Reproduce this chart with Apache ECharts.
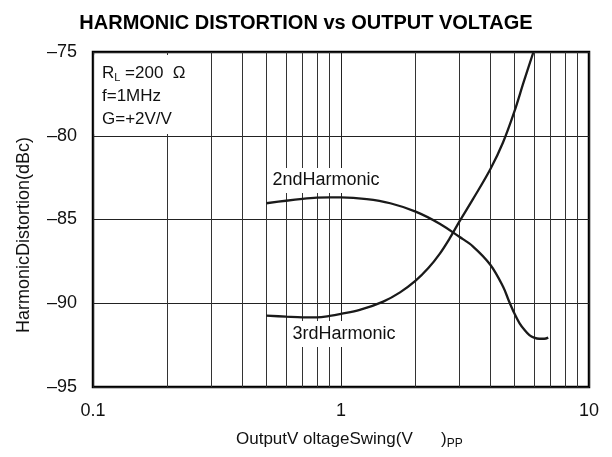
<!DOCTYPE html>
<html>
<head>
<meta charset="UTF-8">
<title>Harmonic Distortion vs Output Voltage</title>
<script src="https://cdn.jsdelivr.net/npm/echarts@6/dist/echarts.min.js"></script>
<style>
    html, body { margin: 0; padding: 0; background: #fff; }
    #chart { width: 612px; height: 457px; }
</style>
</head>
<body>
<div id="chart"></div>
<script>
// curve data (x in Vpp, y in dBc)
var h2X = [0.5, 0.6, 0.7, 0.8, 0.9, 1.0, 1.27, 1.58, 2.0, 2.5, 3.0, 3.4, 4.0, 4.5, 4.75, 5.0, 5.25, 5.5, 5.75, 6.0, 6.3, 6.6, 6.85];
var h2Y = [-84.03, -83.88, -83.77, -83.70, -83.68, -83.68, -83.78, -84.03, -84.53, -85.25, -86.03, -86.6, -87.7, -89.0, -89.85, -90.6, -91.2, -91.6, -91.9, -92.05, -92.12, -92.12, -92.05];
var h3X = [0.5, 0.6, 0.7, 0.8, 0.9, 1.0, 1.19, 1.48, 1.73, 2.0, 2.25, 2.5, 2.75, 3.0, 3.4, 4.0, 4.5, 5.0, 5.45, 5.97];
var h3Y = [-90.74, -90.8, -90.84, -90.84, -90.76, -90.64, -90.4, -89.9, -89.35, -88.65, -87.9, -87.05, -86.1, -85.13, -83.8, -82.0, -80.4, -78.56, -76.8, -75.0];
var minorX = [0.2, 0.3, 0.4, 0.5, 0.6, 0.7, 0.8, 0.9, 2, 3, 4, 5, 6, 7, 8, 9];
var xTicks = [0.1, 1, 10];
var yMin = -95, yMax = -75, yStep = 5;

function pairs(xs, ys) {
    return xs.map(function (x, i) { return [x, ys[i]]; });
}

var font = 'Liberation Sans, Arial, sans-serif';
var chart = echarts.init(document.getElementById('chart'));

var option = {
    animation: false,
    backgroundColor: '#fff',
    title: {
        text: 'HARMONIC DISTORTION vs OUTPUT VOLTAGE',
        left: 'center',
        top: 8,
        textStyle: { fontFamily: font, fontSize: 20, fontWeight: 'bold', color: '#000' }
    },
    grid: {
        left: 93, top: 52, width: 496, height: 335,
        show: true, borderColor: '#000', borderWidth: 2.5, backgroundColor: 'transparent'
    },
    xAxis: {
        type: 'log', logBase: 10, min: 0.1, max: 10,
        axisLine: { show: false },
        axisTick: { show: false },
        splitLine: { show: true, lineStyle: { color: '#222', width: 1 } },
        axisLabel: {
            margin: 15, fontFamily: font, fontSize: 18, color: '#111',
            formatter: function (v) { return xTicks.indexOf(v) >= 0 ? String(v) : ''; }
        }
    },
    yAxis: {
        type: 'value', min: yMin, max: yMax, interval: yStep,
        axisLine: { show: false },
        axisTick: { show: false },
        splitLine: { show: true, lineStyle: { color: '#222', width: 1 } },
        axisLabel: {
            margin: 16, fontFamily: font, fontSize: 18, color: '#111',
            formatter: function (v) { return String(v).replace('-', '\u2013'); }
        }
    },
    series: [
        {
            type: 'line', data: [], silent: true,
            markLine: {
                silent: true, symbol: 'none', label: { show: false },
                lineStyle: { color: '#333', width: 1, type: 'solid' },
                data: minorX.map(function (x) { return { xAxis: x }; })
            }
        },
        {
            name: '2ndHarmonic', type: 'line', data: pairs(h2X, h2Y),
            smooth: 0.35, showSymbol: false, z: 5,
            lineStyle: { color: '#1a1a1a', width: 2.3 }
        },
        {
            name: '3rdHarmonic', type: 'line', data: pairs(h3X, h3Y),
            smooth: 0.35, showSymbol: false, z: 5,
            lineStyle: { color: '#1a1a1a', width: 2.3 }
        }
    ],
    graphic: [
        // condition box, top left
        { type: 'rect', shape: { x: 94.5, y: 55, width: 100, height: 79 }, style: { fill: '#fff' }, z: 10 },
        {
            type: 'text', x: 102, y: 62, z: 11,
            style: {
                text: 'R{sub|L} =200  \u03a9\nf=1MHz\nG=+2V/V',
                font: '17px ' + font, fill: '#111', lineHeight: 23,
                rich: { sub: { fontSize: 11, fontFamily: font, padding: [8, 0, 0, 0] } }
            }
        },
        // curve labels
        { type: 'rect', shape: { x: 270, y: 168, width: 113, height: 25 }, style: { fill: '#fff' }, z: 10 },
        {
            type: 'text', x: 326, y: 180, z: 11,
            style: { text: '2ndHarmonic', font: '18px ' + font, fill: '#111', align: 'center', verticalAlign: 'middle' }
        },
        { type: 'rect', shape: { x: 290, y: 321, width: 109, height: 26 }, style: { fill: '#fff' }, z: 10 },
        {
            type: 'text', x: 344, y: 334, z: 11,
            style: { text: '3rdHarmonic', font: '18px ' + font, fill: '#111', align: 'center', verticalAlign: 'middle' }
        },
        // axis names
        {
            type: 'text', x: 24, y: 235, rotation: Math.PI / 2, z: 11,
            style: { text: 'HarmonicDistortion(dBc)', font: '18px ' + font, fill: '#111', align: 'center', verticalAlign: 'middle' }
        },
        {
            type: 'text', x: 236, y: 428, z: 11,
            style: {
                text: 'OutputV oltageSwing(V      ){pp|PP}',
                font: '17px ' + font, fill: '#111',
                rich: { pp: { fontSize: 12, fontFamily: font, padding: [10, 0, 0, 0] } }
            }
        }
    ]
};

chart.setOption(option);
</script>
</body>
</html>
